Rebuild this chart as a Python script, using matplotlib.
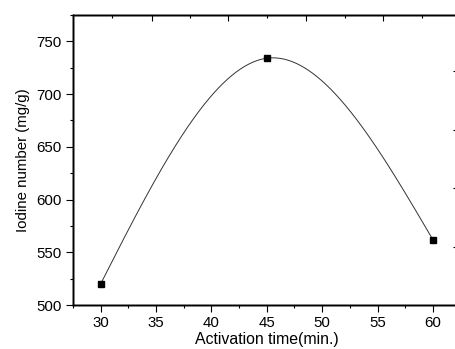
import matplotlib
matplotlib.use("Agg")
import matplotlib.pyplot as plt
import numpy as np

# data
time_min = [30, 45, 60]
iodine = [520, 734, 562]

x_ticks = [30, 35, 40, 45, 50, 55, 60]
y_ticks = [500, 550, 600, 650, 700, 750]


# natural cubic spline through the points (like the Origin spline line)
def natural_spline(xs, ys, n=300):
    xs = np.asarray(xs, float)
    ys = np.asarray(ys, float)
    k = len(xs)
    h = np.diff(xs)
    A = np.zeros((k, k))
    r = np.zeros(k)
    A[0, 0] = 1
    A[-1, -1] = 1
    for i in range(1, k - 1):
        A[i, i - 1] = h[i - 1]
        A[i, i] = 2 * (h[i - 1] + h[i])
        A[i, i + 1] = h[i]
        r[i] = 6 * ((ys[i + 1] - ys[i]) / h[i] - (ys[i] - ys[i - 1]) / h[i - 1])
    M = np.linalg.solve(A, r)
    xx = np.linspace(xs[0], xs[-1], n)
    yy = np.zeros_like(xx)
    for j, x in enumerate(xx):
        i = min(np.searchsorted(xs, x, side="right") - 1, k - 2)
        a = xs[i + 1] - x
        b = x - xs[i]
        yy[j] = (M[i] * a**3 + M[i + 1] * b**3) / (6 * h[i]) \
            + (ys[i] / h[i] - M[i] * h[i] / 6) * a \
            + (ys[i + 1] / h[i] - M[i + 1] * h[i] / 6) * b
    return xx, yy


plt.rcParams["font.family"] = ["Liberation Sans", "DejaVu Sans"]

fig = plt.figure(figsize=(4.56, 3.49), dpi=100)
ax = fig.add_axes([0.160, 0.126, 0.850, 0.831])

sx, sy = natural_spline(time_min, iodine)
ax.plot(sx, sy, color="#333333", lw=0.7)
ax.plot(time_min, iodine, "s", color="black", ms=5)

ax.set_xlim(27.5, 62.5)
ax.set_ylim(500, 775)
ax.set_xticks(x_ticks)
ax.set_yticks(y_ticks)
ax.set_xticks(np.arange(27.5, 62.6, 2.5), minor=True)
ax.set_yticks(np.arange(525, 776, 50), minor=True)
ax.tick_params(which="major", direction="out", length=5, width=0.8, labelsize=10.8, pad=3)
ax.tick_params(which="minor", direction="out", length=2.5, width=0.8)
ax.tick_params(top=False, right=False)

ax.set_xlabel("Activation time(min.)", fontsize=11.4, labelpad=1.5)
ax.set_ylabel("Iodine number (mg/g)", fontsize=10.8, labelpad=5)

# top and right frame ticks (different spacing in the original)
ax2 = ax.twiny()
ax2.set_xlim(ax.get_xlim())
ax2.set_xticks([34.6, 41.5, 48.55, 55.5])
ax2.set_xticks([31.0, 38.05, 45.0, 52.1, 59.05], minor=True)
ax2.tick_params(which="major", direction="in", length=4, width=0.8, labeltop=False)
ax2.tick_params(which="minor", direction="in", length=2, width=0.8)

ax3 = ax.twinx()
ax3.set_ylim(ax.get_ylim())
ax3.set_yticks([555, 611, 666, 721.5])
ax3.tick_params(direction="in", length=6, width=0.8, labelright=False)

for a in (ax, ax2, ax3):
    for s in a.spines.values():
        s.set_linewidth(1.0)

fig.savefig("out.png", dpi=100)
